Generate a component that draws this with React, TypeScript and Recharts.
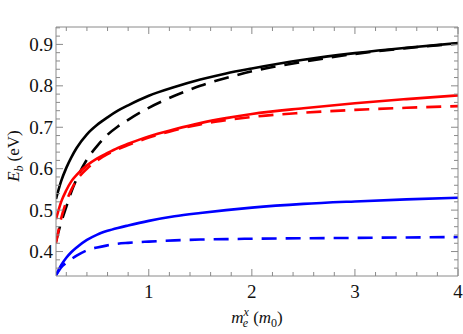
import { LineChart, Line, XAxis, YAxis, Label } from 'recharts';

// effective electron mass along x (m0)
const mex = [0.1, 0.15, 0.2, 0.25, 0.3, 0.4, 0.5, 0.6, 0.7, 0.8, 1.0, 1.25, 1.5, 1.75, 2.0, 2.5, 3.0, 3.5, 4.0];

// binding energies (eV)
const blackSolid = [0.527, 0.57, 0.602, 0.628, 0.65, 0.683, 0.706, 0.724, 0.74, 0.753, 0.776, 0.797, 0.815, 0.83, 0.842, 0.863, 0.879, 0.892, 0.903];
const blackDashed = [0.425, 0.47, 0.508, 0.545, 0.575, 0.622, 0.655, 0.682, 0.702, 0.718, 0.747, 0.776, 0.8, 0.819, 0.835, 0.858, 0.877, 0.891, 0.902];
const redSolid = [0.478, 0.52, 0.548, 0.57, 0.585, 0.608, 0.625, 0.638, 0.65, 0.66, 0.678, 0.695, 0.71, 0.722, 0.732, 0.746, 0.758, 0.768, 0.777];
const redDashed = [0.42, 0.48, 0.52, 0.55, 0.572, 0.6, 0.62, 0.635, 0.647, 0.657, 0.675, 0.693, 0.707, 0.717, 0.725, 0.735, 0.742, 0.747, 0.751];
const blueSolid = [0.343, 0.367, 0.385, 0.399, 0.41, 0.428, 0.441, 0.45, 0.457, 0.463, 0.474, 0.485, 0.493, 0.5, 0.506, 0.515, 0.521, 0.526, 0.53];
const blueDashed = [0.343, 0.362, 0.373, 0.382, 0.39, 0.403, 0.41, 0.415, 0.419, 0.421, 0.424, 0.427, 0.429, 0.43, 0.431, 0.432, 0.433, 0.434, 0.435];

const xTicks = [0.2, 0.4, 0.6, 0.8, 1, 1.2, 1.4, 1.6, 1.8, 2, 2.2, 2.4, 2.6, 2.8, 3, 3.2, 3.4, 3.6, 3.8, 4];
const yTicks = [0.36, 0.38, 0.4, 0.42, 0.44, 0.46, 0.48, 0.5, 0.52, 0.54, 0.56, 0.58, 0.6, 0.62, 0.64, 0.66, 0.68, 0.7, 0.72, 0.74, 0.76, 0.78, 0.8, 0.82, 0.84, 0.86, 0.88, 0.9, 0.92, 0.94];

const data = mex.map((x, i) => ({
  x,
  bs: blackSolid[i],
  bd: blackDashed[i],
  rs: redSolid[i],
  rd: redDashed[i],
  us: blueSolid[i],
  ud: blueDashed[i],
}));

const FRAME = '#8a8a8a';
const FONT = '"Liberation Serif", "Times New Roman", serif';
const DASH = '15 9';

const isMajorX = (v: number) => Math.abs(v - Math.round(v)) < 1e-6;
const isMajorY = (v: number) => Math.abs(v * 10 - Math.round(v * 10)) < 1e-6;

const BottomTick = ({ x, y, payload }: any) => {
  const major = isMajorX(payload.value);
  return (
    <g>
      <line x1={x} x2={x} y1={y} y2={y - (major ? 7 : 4)} stroke={FRAME} />
      {major && (
        <text x={x} y={y + 22} textAnchor="middle" fontFamily={FONT} fontSize={19} fill="#111">
          {Math.round(payload.value)}
        </text>
      )}
    </g>
  );
};

const TopTick = ({ x, y, payload }: any) => (
  <line x1={x} x2={x} y1={y} y2={y + (isMajorX(payload.value) ? 7 : 4)} stroke={FRAME} />
);

const LeftTick = ({ x, y, payload }: any) => {
  const major = isMajorY(payload.value);
  return (
    <g>
      <line x1={x} x2={x + (major ? 7 : 4)} y1={y} y2={y} stroke={FRAME} />
      {major && (
        <text x={x - 3} y={y} dy="0.34em" textAnchor="end" fontFamily={FONT} fontSize={19} fill="#111">
          {payload.value.toFixed(1)}
        </text>
      )}
    </g>
  );
};

const RightTick = ({ x, y, payload }: any) => (
  <line x1={x} x2={x - (isMajorY(payload.value) ? 7 : 4)} y1={y} y2={y} stroke={FRAME} />
);

const XTitle = ({ viewBox }: any) => {
  const cx = viewBox.x + viewBox.width / 2;
  return (
    <text x={cx} y={323} textAnchor="middle" fontFamily={FONT} fontSize={17} fill="#111">
      <tspan fontStyle="italic">m</tspan>
      <tspan fontStyle="italic" fontSize={12} dy={-7}>x</tspan>
      <tspan fontStyle="italic" fontSize={12} dx={-6} dy={11}>e</tspan>
      <tspan dx={5} dy={-4}>(</tspan>
      <tspan fontStyle="italic">m</tspan>
      <tspan fontSize={12} dy={4}>0</tspan>
      <tspan dy={-4}>)</tspan>
    </text>
  );
};

const YTitle = () => (
  <text
    x={19}
    y={156}
    transform="rotate(-90, 19, 156)"
    textAnchor="middle"
    fontFamily={FONT}
    fontSize={17}
    fill="#111"
  >
    <tspan fontStyle="italic">E</tspan>
    <tspan fontStyle="italic" fontSize={12} dy={4}>b</tspan>
    <tspan dx={4} dy={-4}>(eV)</tspan>
  </text>
);

export default function App() {
  return (
    <div style={{ position: 'absolute', left: 0, top: 0 }}>
      <LineChart width={463} height={334} data={data} margin={{ top: 26, right: 4, left: 0, bottom: 28 }}>
        <XAxis
          type="number"
          dataKey="x"
          domain={[0.1, 4]}
          allowDataOverflow
          ticks={xTicks}
          interval={0}
          tickSize={0}
          tickMargin={0}
          tickLine={false}
          tick={<BottomTick />}
          axisLine={{ stroke: FRAME }}
          height={30}
        >
          <Label content={<XTitle />} />
        </XAxis>
        <XAxis
          xAxisId="top"
          orientation="top"
          type="number"
          dataKey="x"
          domain={[0.1, 4]}
          allowDataOverflow
          ticks={xTicks}
          interval={0}
          tickSize={0}
          tickMargin={0}
          tickLine={false}
          tick={<TopTick />}
          axisLine={{ stroke: FRAME }}
          height={1}
        />
        <YAxis
          type="number"
          domain={[0.341, 0.942]}
          allowDataOverflow
          ticks={yTicks}
          interval={0}
          tickSize={0}
          tickMargin={0}
          tickLine={false}
          tick={<LeftTick />}
          axisLine={{ stroke: FRAME }}
          width={56}
        >
          <Label content={<YTitle />} />
        </YAxis>
        <YAxis
          yAxisId="right"
          orientation="right"
          type="number"
          domain={[0.341, 0.942]}
          allowDataOverflow
          ticks={yTicks}
          interval={0}
          tickSize={0}
          tickMargin={0}
          tickLine={false}
          tick={<RightTick />}
          axisLine={{ stroke: FRAME }}
          width={1}
        />
        <Line type="monotone" dataKey="bs" stroke="#000000" strokeWidth={2.6} dot={false} isAnimationActive={false} />
        <Line type="monotone" dataKey="bd" stroke="#000000" strokeWidth={2.6} strokeDasharray={DASH} dot={false} isAnimationActive={false} />
        <Line type="monotone" dataKey="rs" stroke="#ff0000" strokeWidth={2.6} dot={false} isAnimationActive={false} />
        <Line type="monotone" dataKey="rd" stroke="#ff0000" strokeWidth={2.6} strokeDasharray={DASH} dot={false} isAnimationActive={false} />
        <Line type="monotone" dataKey="us" stroke="#0000ff" strokeWidth={2.6} dot={false} isAnimationActive={false} />
        <Line type="monotone" dataKey="ud" stroke="#0000ff" strokeWidth={2.6} strokeDasharray={DASH} dot={false} isAnimationActive={false} />
      </LineChart>
    </div>
  );
}
